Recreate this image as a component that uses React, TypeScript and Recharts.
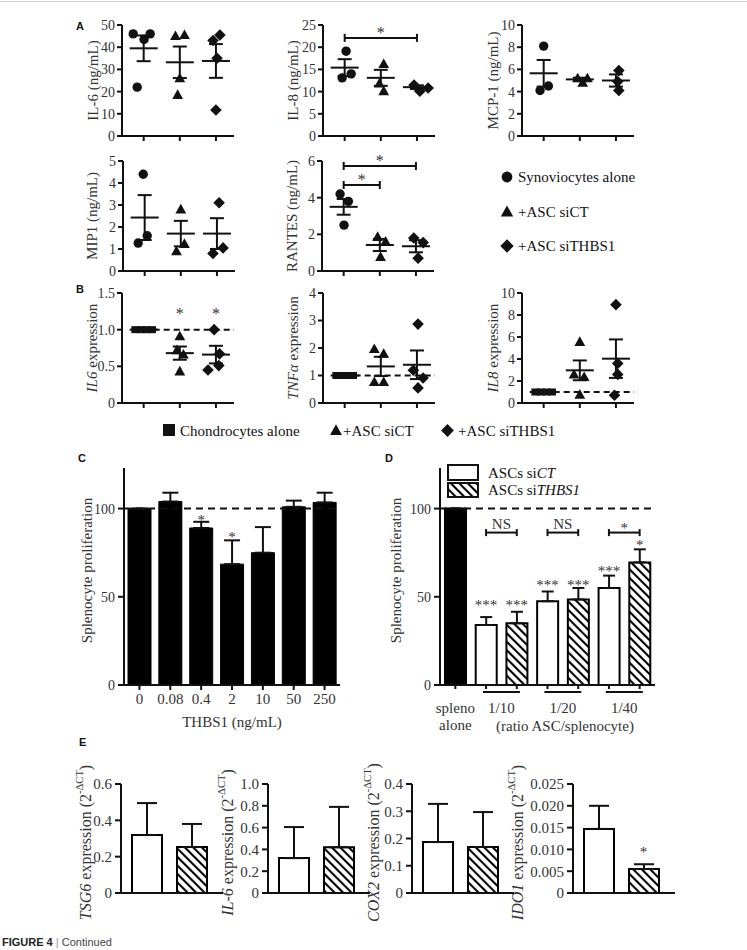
import React from 'react';
import {
  ComposedChart,
  Scatter,
  Bar,
  Cell,
  XAxis,
  YAxis,
  ErrorBar,
  ReferenceLine,
  Legend,
} from 'recharts';

const SERIF = '"Liberation Serif", "Times New Roman", serif';
const SANS = '"Liberation Sans", Arial, sans-serif';
const INK = '#111';
const TXT = '#333';

// ---------- Panel A: cytokines from synoviocytes (ng/mL) ----------
const synGroups = ['Synoviocytes alone', '+ASC siCT', '+ASC siTHBS1'];

const il6Alone = [46, 43.5, 46, 22];
const il6AloneDx = [-0.29, 0.01, 0.18, -0.18];
const il6SiCT = [45, 45.5, 26, 18.5];
const il6SiCTDx = [-0.12, 0.13, 0, -0.06];
const il6SiTHBS1 = [43, 45.5, 35, 11.7];
const il6SiTHBS1Dx = [-0.08, 0.11, 0.03, 0];
const il6Mean = [39.5, 33.2, 33.8];
const il6Sem = [5.8, 7.1, 7.6];

const il8Alone = [19.1, 13.1, 14.0];
const il8AloneDx = [0.04, -0.07, 0.18];
const il8SiCT = [16.2, 11.8, 10.1];
const il8SiCTDx = [0.08, -0.04, 0.08];
const il8SiTHBS1 = [11.5, 10.1, 10.8];
const il8SiTHBS1Dx = [-0.08, 0.08, 0.31];
const il8Mean = [15.4, 13.1, 11.0];
const il8Sem = [1.9, 1.8, 0.4];

const mcp1Alone = [8.1, 4.1, 4.5];
const mcp1AloneDx = [0, -0.1, 0.13];
const mcp1SiCT = [5.2, 5.2, 4.8];
const mcp1SiCTDx = [-0.06, 0.21, 0.08];
const mcp1SiTHBS1 = [5.9, 4.9, 4.1];
const mcp1SiTHBS1Dx = [0.08, 0.05, 0.08];
const mcp1Mean = [5.65, 5.1, 5.0];
const mcp1Sem = [1.2, 0.15, 0.55];

const mip1Alone = [4.4, 1.27, 1.6];
const mip1AloneDx = [-0.04, -0.18, 0.07];
const mip1SiCT = [2.8, 0.9, 1.23];
const mip1SiCTDx = [0, -0.12, 0.1];
const mip1SiTHBS1 = [3.1, 0.8, 1.05];
const mip1SiTHBS1Dx = [0.06, -0.11, 0.17];
const mip1Mean = [2.43, 1.7, 1.7];
const mip1Sem = [1.02, 0.58, 0.7];

const rantesAlone = [4.2, 3.8, 2.5];
const rantesAloneDx = [-0.1, 0.13, 0.01];
const rantesSiCT = [1.86, 1.6, 0.77];
const rantesSiCTDx = [-0.06, 0.16, 0.02];
const rantesSiTHBS1 = [1.8, 1.55, 0.7];
const rantesSiTHBS1Dx = [-0.06, 0.2, 0.06];
const rantesMean = [3.5, 1.42, 1.35];
const rantesSem = [0.43, 0.33, 0.33];

// ---------- Panel B: gene expression in chondrocytes ----------
const chondroGroups = ['Chondrocytes alone', '+ASC siCT', '+ASC siTHBS1'];

const bAlone = [1, 1, 1, 1];
const bAloneDx = [-0.23, -0.08, 0.08, 0.23];

const il6bSiCT = [0.91, 0.72, 0.66, 0.43];
const il6bSiCTDx = [0, -0.08, 0.1, 0];
const il6bSiTHBS1 = [1.0, 0.67, 0.45, 0.51];
const il6bSiTHBS1Dx = [-0.05, 0.1, -0.22, 0.08];
const il6bMean = [1.0, 0.68, 0.66];
const il6bSem = [0, 0.09, 0.12];

const tnfSiCT = [1.96, 1.79, 0.76, 0.76];
const tnfSiCTDx = [-0.18, 0.08, -0.18, 0.08];
const tnfSiTHBS1 = [2.87, 1.19, 0.91, 0.55];
const tnfSiTHBS1Dx = [0.03, -0.1, 0.17, 0.03];
const tnfMean = [1.0, 1.33, 1.39];
const tnfSem = [0, 0.35, 0.52];

const il8bSiCT = [5.55, 2.58, 2.36, 0.76];
const il8bSiCTDx = [0, -0.16, 0.12, 0];
const il8bSiTHBS1 = [8.94, 3.6, 2.6, 0.7];
const il8bSiTHBS1Dx = [0, 0.05, 0.05, -0.04];
const il8bMean = [1.0, 2.97, 4.03];
const il8bSem = [0, 0.9, 1.75];

// ---------- Panel C: splenocyte proliferation vs THBS1 ----------
const thbs1Doses = ['0', '0.08', '0.4', '2', '10', '50', '250'];
const thbs1Prolif = [100, 104, 89, 68.5, 75, 101, 103.5];
const thbs1Err = [0, 5, 3.5, 13.5, 14.5, 3.5, 5.5];
const thbs1Stars = ['', '', '*', '*', '', '', ''];
const thbs1StarY = [null, null, 95, 85.2, null, null, null];

// ---------- Panel D: splenocyte proliferation with ASCs ----------
const dBars = ['spleno alone', 'siCT 1/10', 'siTHBS1 1/10', 'siCT 1/20', 'siTHBS1 1/20', 'siCT 1/40', 'siTHBS1 1/40'];
const dProlif = [100, 34, 35, 47.5, 48.5, 55, 69.5];
const dErr = [0, 4.5, 6.5, 5.5, 6.5, 7, 7.4];
const dStars = ['', '***', '***', '***', '***', '***', '*'];
const dStarY = [null, 46.6, 46.6, 58, 58, 66, 80.7];
const dPairs = ['1/10', '1/20', '1/40'];
const dPairTests = ['NS', 'NS', '*'];

// ---------- Panel E: expression in ASCs ----------
const eGroups = ['ASCs siCT', 'ASCs siTHBS1'];
const tsg6Expr = [0.319, 0.253];
const tsg6Err = [0.176, 0.127];
const il6Expr = [0.32, 0.42];
const il6ExprErr = [0.285, 0.37];
const cox2Expr = [0.187, 0.169];
const cox2Err = [0.14, 0.128];
const ido1Expr = [0.0147, 0.0055];
const ido1Err = [0.0053, 0.0011];
const ido1Stars = ['', '*'];
const ido1StarY = [null, 0.0099];

type Part = { t: string; i?: boolean; sup?: boolean };

function VLabel(props: any) {
  const { px, py, parts, size = 15 } = props;
  const lift = size * 0.38;
  return (
    <text
      x={px}
      y={py}
      transform={`rotate(-90 ${px} ${py})`}
      textAnchor="middle"
      dominantBaseline="central"
      fontFamily={SERIF}
      fontSize={size}
      fill={TXT}
    >
      {parts.map((p: Part, k: number) =>
        p.sup ? (
          <tspan key={k} fontSize={size * 0.66} dy={-lift}>
            {p.t}
          </tspan>
        ) : (
          <tspan key={k} fontStyle={p.i ? 'italic' : 'normal'} dy={k > 0 && parts[k - 1].sup ? lift : 0}>
            {p.t}
          </tspan>
        )
      )}
    </text>
  );
}

function HLabel(props: any) {
  const { px, py, text, size = 15 } = props;
  return (
    <text x={px} y={py} textAnchor="middle" dominantBaseline="central" fontFamily={SERIF} fontSize={size} fill={TXT}>
      {text}
    </text>
  );
}

function Marker({ cx, cy, kind, s = 1 }: { cx: number; cy: number; kind: string; s?: number }) {
  if (cx == null || cy == null || !Number.isFinite(cy)) return <g />;
  if (kind === 'circle') return <circle cx={cx} cy={cy} r={4.7 * s} fill={INK} />;
  if (kind === 'triangle')
    return (
      <polygon
        points={`${cx},${cy - 5.6 * s} ${cx + 5.4 * s},${cy + 4 * s} ${cx - 5.4 * s},${cy + 4 * s}`}
        fill={INK}
      />
    );
  if (kind === 'diamond')
    return (
      <polygon
        points={`${cx},${cy - 5.8 * s} ${cx + 5.8 * s},${cy} ${cx},${cy + 5.8 * s} ${cx - 5.8 * s},${cy}`}
        fill={INK}
      />
    );
  return <rect x={cx - 4 * s} y={cy - 3.5 * s} width={8 * s} height={7 * s} fill={INK} />;
}

const starShape = (size: number) => (p: any) =>
  p && p.payload && p.payload.t && Number.isFinite(p.cy) ? (
    <text x={p.cx} y={p.cy + size * 0.48} textAnchor="middle" fontFamily={SERIF} fontSize={size} fill={TXT}>
      {p.payload.t}
    </text>
  ) : (
    <g />
  );

function bracketLines(items: { a: any; b: any; y: number; t: string }[], cap: number, fs: number) {
  const line = { stroke: INK, strokeWidth: 2, ifOverflow: 'visible' as const };
  return items.flatMap((it, k) => [
    <ReferenceLine
      key={`h${k}`}
      segment={[{ x: it.a, y: it.y }, { x: it.b, y: it.y }]}
      {...line}
      label={{
        value: it.t,
        position: 'top',
        offset: it.t === 'NS' ? 4 : 0,
        fontSize: fs,
        fontFamily: SERIF,
        fill: TXT,
      }}
    />,
    <ReferenceLine key={`l${k}`} segment={[{ x: it.a, y: it.y - cap }, { x: it.a, y: it.y + cap }]} {...line} />,
    <ReferenceLine key={`r${k}`} segment={[{ x: it.b, y: it.y - cap }, { x: it.b, y: it.y + cap }]} {...line} />,
  ]);
}

const axisStyle = { stroke: INK, strokeWidth: 2 };
const tickText = { fontSize: 14, fontFamily: SERIF, fill: TXT };

// dot plot layout
const DML = 30;
const DYW = 40;
const DMT = 12;
const DPW = 112;

interface Group {
  kind: string;
  vals: number[];
  dx: number[];
}

function DotPlot(props: {
  axisX: number;
  yTop: number;
  y0: number;
  max: number;
  ticks: number[];
  fmt?: (v: number) => string;
  label: Part[];
  labelDx?: number;
  groups: Group[];
  means: number[];
  sems: number[];
  dashed?: boolean;
  brackets?: { a: number; b: number; y: number; t: string }[];
  stars?: { x: number; y: number; t: string }[];
  children?: React.ReactNode;
}) {
  const { axisX, yTop, y0, max, ticks, fmt, label, labelDx = 29, groups, means, sems, dashed, brackets = [], stars = [] } =
    props;
  const plotH = y0 - yTop;
  const cap = (4 * max) / plotH;
  const meanData = means.map((m, i) => ({ x: i + 1, y: m, sem: sems[i] }));
  return (
    <div style={{ position: 'absolute', left: axisX - DML - DYW, top: yTop - DMT }}>
      <ComposedChart
        width={DML + DYW + DPW + 20}
        height={DMT + plotH + 14}
        margin={{ top: DMT, right: 20, bottom: 2, left: DML }}
      >
        <XAxis
          type="number"
          dataKey="x"
          domain={[0.4, 3.5]}
          ticks={[1, 2, 3]}
          tickFormatter={() => ''}
          height={12}
          tickSize={5}
          axisLine={axisStyle}
          tickLine={axisStyle}
          allowDataOverflow
        />
        <YAxis
          type="number"
          dataKey="y"
          domain={[0, max]}
          ticks={ticks}
          interval={0}
          width={DYW}
          tickSize={5}
          tickMargin={2}
          tickFormatter={fmt}
          axisLine={axisStyle}
          tickLine={axisStyle}
          tick={tickText}
          allowDataOverflow
          label={<VLabel px={DML + DYW - labelDx} py={DMT + plotH / 2} parts={label} />}
        />
        {dashed && (
          <ReferenceLine
            segment={[{ x: 1, y: 1 }, { x: 3.5, y: 1 }]}
            stroke={INK}
            strokeWidth={2}
            strokeDasharray="6 4"
          />
        )}
        {groups.map((g, gi) => (
          <Scatter
            key={gi}
            data={g.vals.map((v, i) => ({ x: gi + 1 + g.dx[i], y: v }))}
            isAnimationActive={false}
            shape={(p: any) => <Marker cx={p.cx} cy={p.cy} kind={g.kind} />}
          />
        ))}
        <Scatter
          data={meanData}
          isAnimationActive={false}
          shape={(p: any) => (
            <line x1={p.cx - 14} x2={p.cx + 14} y1={p.cy} y2={p.cy} stroke={INK} strokeWidth={2} />
          )}
        >
          <ErrorBar dataKey="sem" direction="y" width={7} strokeWidth={2} stroke={INK} isAnimationActive={false} />
        </Scatter>
        {stars.length > 0 && <Scatter data={stars} isAnimationActive={false} shape={starShape(16)} />}
        {bracketLines(brackets, cap, 16)}
        {props.children}
      </ComposedChart>
    </div>
  );
}

function SynLegend() {
  const tx = { fontFamily: SERIF, fontSize: 15, fill: INK };
  const kinds = ['circle', 'triangle', 'diamond'];
  const rows = [12, 47, 81];
  return (
    <svg width={170} height={95} style={{ display: 'block', overflow: 'visible' }}>
      {synGroups.map((g, i) => (
        <g key={g}>
          <Marker cx={7} cy={rows[i]} kind={kinds[i]} s={1.15} />
          <text x={18} y={rows[i] + 5} {...tx}>
            {g}
          </text>
        </g>
      ))}
    </svg>
  );
}

function ChondroLegend() {
  const tx = { fontFamily: SERIF, fontSize: 15, fill: INK };
  const kinds = ['square', 'triangle', 'diamond'];
  const mx = [11, 178, 289.5];
  const tx0 = [22, 185, 300];
  return (
    <svg width={430} height={20} style={{ display: 'block', overflow: 'visible' }}>
      {chondroGroups.map((g, i) => (
        <g key={g}>
          {kinds[i] === 'square' ? (
            <rect x={mx[i] - 6} y={3} width={12} height={12} fill={INK} />
          ) : (
            <Marker cx={mx[i]} cy={9.5} kind={kinds[i]} s={1.1} />
          )}
          <text x={tx0[i]} y={15} {...tx}>
            {g}
          </text>
        </g>
      ))}
    </svg>
  );
}

const hatchDefs = (
  <defs>
    <pattern id="hatch" width="6" height="6" patternUnits="userSpaceOnUse" patternTransform="rotate(-45)">
      <rect width="6" height="6" fill="#fff" />
      <line x1="1" y1="0" x2="1" y2="6" stroke="#000" strokeWidth="2.2" />
    </pattern>
  </defs>
);

function AscLegend() {
  const tx = { fontFamily: SERIF, fontSize: 15, fill: INK };
  return (
    <svg width={170} height={40} style={{ display: 'block', overflow: 'visible' }}>
      <rect x={3} y={3} width={30} height={15} fill="#fff" stroke={INK} strokeWidth={2} />
      <rect x={3} y={21} width={30} height={14} fill="url(#hatch)" stroke={INK} strokeWidth={2} />
      <text x={43} y={16} {...tx}>
        ASCs si<tspan fontStyle="italic">CT</tspan>
      </text>
      <text x={43} y={33} {...tx}>
        ASCs si<tspan fontStyle="italic">THBS1</tspan>
      </text>
    </svg>
  );
}

// bar charts share the proliferation scale
const BML = 30;
const BYW = 46;
const BMT = 10;
const B_TOP = 468;
const B_Y0 = 685;
const B_MAX = 123;

function PanelC() {
  const plotW = 216;
  const plotH = B_Y0 - B_TOP;
  const data = thbs1Doses.map((d, i) => ({
    dose: d,
    v: thbs1Prolif[i],
    err: [0, thbs1Err[i]],
    sy: thbs1StarY[i],
    t: thbs1Stars[i],
  }));
  const left = 124 - BML - BYW;
  return (
    <div style={{ position: 'absolute', left, top: B_TOP - BMT }}>
      <ComposedChart
        width={BML + BYW + plotW + 20}
        height={BMT + plotH + 52}
        data={data}
        margin={{ top: BMT, right: 20, bottom: 2, left: BML }}
      >
        <XAxis
          dataKey="dose"
          interval={0}
          height={50}
          tickSize={5}
          tickMargin={3}
          axisLine={axisStyle}
          tickLine={axisStyle}
          tick={{ ...tickText, fontSize: 15 }}
          label={<HLabel px={BML + BYW + plotW / 2} py={BMT + plotH + 37} text="THBS1  (ng/mL)" />}
        />
        <YAxis
          type="number"
          domain={[0, B_MAX]}
          ticks={[0, 50, 100]}
          interval={0}
          width={BYW}
          tickSize={6}
          tickMargin={3}
          axisLine={axisStyle}
          tickLine={axisStyle}
          tick={tickText}
          allowDataOverflow
          label={<VLabel px={BML + BYW - 37} py={BMT + plotH / 2 - 6} parts={[{ t: 'Splenocyte proliferation' }]} />}
        />
        <Bar dataKey="v" barSize={23} fill="#000" stroke="#000" strokeWidth={1} isAnimationActive={false}>
          <ErrorBar dataKey="err" direction="y" width={8} strokeWidth={2} stroke={INK} isAnimationActive={false} />
        </Bar>
        <ReferenceLine y={100} stroke={INK} strokeWidth={2} strokeDasharray="7 5" />
        <Scatter dataKey="sy" isAnimationActive={false} shape={starShape(15)} />
      </ComposedChart>
    </div>
  );
}

const D_PLOTW = 215;
const D_BAND = D_PLOTW / dBars.length;

function DTick(p: any) {
  const name: string = p.payload ? p.payload.value : '';
  const x = p.x;
  const y = p.y;
  const tx = { fontFamily: SERIF, fontSize: 15, fill: TXT, textAnchor: 'middle' as const };
  if (name === 'spleno alone')
    return (
      <g>
        <text x={x} y={y + 21} {...tx}>
          spleno
        </text>
        <text x={x} y={y + 38} {...tx}>
          alone
        </text>
      </g>
    );
  if (name.startsWith('siCT')) {
    const cx = x + D_BAND / 2;
    return (
      <g>
        <line x1={cx - 18.5} x2={cx + 18.5} y1={y} y2={y} stroke={INK} strokeWidth={2} />
        <text x={cx} y={y + 21} {...tx}>
          {name.split(' ')[1]}
        </text>
      </g>
    );
  }
  return <g />;
}

function PanelD() {
  const plotH = B_Y0 - B_TOP;
  const data = dBars.map((d, i) => ({
    grp: d,
    v: dProlif[i],
    err: [0, dErr[i]],
    sy: dStarY[i],
    t: dStars[i],
  }));
  const left = 440 - BML - BYW;
  const pairs = dPairs.map((r, i) => ({ a: `siCT ${r}`, b: `siTHBS1 ${r}`, y: 86.4, t: dPairTests[i] }));
  const fillOf = (d: string) => (d.startsWith('siTHBS1') ? 'url(#hatch)' : d.startsWith('siCT') ? '#fff' : '#000');
  return (
    <div style={{ position: 'absolute', left, top: B_TOP - BMT }}>
      <ComposedChart
        width={BML + BYW + D_PLOTW + 20}
        height={BMT + plotH + 52}
        data={data}
        margin={{ top: BMT, right: 20, bottom: 2, left: BML }}
      >
        {hatchDefs}
        <XAxis
          dataKey="grp"
          interval={0}
          height={50}
          tickSize={4}
          tickMargin={3}
          axisLine={axisStyle}
          tickLine={axisStyle}
          tick={DTick}
          label={<HLabel px={565 - left} py={726 - (B_TOP - BMT)} text="(ratio ASC/splenocyte)" />}
        />
        <YAxis
          type="number"
          domain={[0, B_MAX]}
          ticks={[0, 50, 100]}
          interval={0}
          width={BYW}
          tickSize={6}
          tickMargin={3}
          axisLine={axisStyle}
          tickLine={axisStyle}
          tick={tickText}
          allowDataOverflow
          label={<VLabel px={BML + BYW - 44} py={BMT + plotH / 2 - 6} parts={[{ t: 'Splenocyte proliferation' }]} />}
        />
        <ReferenceLine y={100} stroke={INK} strokeWidth={2} strokeDasharray="7 5" />
        <Bar dataKey="v" barSize={21} stroke="#000" strokeWidth={2} isAnimationActive={false}>
          {dBars.map((d) => (
            <Cell key={d} fill={fillOf(d)} />
          ))}
          <ErrorBar dataKey="err" direction="y" width={6} strokeWidth={2} stroke={INK} isAnimationActive={false} />
        </Bar>
        <Scatter dataKey="sy" isAnimationActive={false} shape={starShape(15)} />
        {bracketLines(pairs, 2, 15)}
        <Legend
          layout="horizontal"
          verticalAlign="middle"
          align="center"
          content={() => <AscLegend />}
          wrapperStyle={{ left: 445 - left, top: 462 - (B_TOP - BMT), width: 170, height: 40 }}
        />
      </ComposedChart>
    </div>
  );
}

// E panel layout: tall margins so the rotated titles are not clipped
const EML = 30;
const EYW = 45;
const EMT = 40;
const EMB = 40;
const E_TOP = 784;
const E_Y0 = 893;
const E_PW = 102;

function EPanel(props: {
  axisX: number;
  max: number;
  ticks: number[];
  dec: number;
  label: Part[];
  labelDx: number;
  vals: number[];
  errs: number[];
  stars?: string[];
  starY?: (number | null)[];
}) {
  const { axisX, max, ticks, dec, label, labelDx, vals, errs, stars = ['', ''], starY = [null, null] } = props;
  const plotH = E_Y0 - E_TOP;
  const data = eGroups.map((g, i) => ({ g, v: vals[i], err: [0, errs[i]], sy: starY[i], t: stars[i] }));
  return (
    <div style={{ position: 'absolute', left: axisX - EML - EYW, top: E_TOP - EMT }}>
      <ComposedChart
        width={EML + EYW + E_PW + 10}
        height={EMT + plotH + 4 + EMB}
        data={data}
        margin={{ top: EMT, right: 10, bottom: EMB, left: EML }}
      >
        {hatchDefs}
        <XAxis
          dataKey="g"
          height={4}
          tick={false}
          tickLine={false}
          axisLine={axisStyle}
          padding={{ left: 3, right: 9 }}
        />
        <YAxis
          type="number"
          domain={[0, max]}
          ticks={ticks}
          interval={0}
          width={EYW}
          tickSize={6}
          tickMargin={3}
          tickFormatter={(v: number) => (v === 0 ? '0' : v.toFixed(dec))}
          axisLine={axisStyle}
          tickLine={axisStyle}
          tick={{ ...tickText, fontSize: 15 }}
          allowDataOverflow
          label={<VLabel px={EML + EYW - labelDx} py={EMT + plotH / 2 + 4} parts={label} size={16} />}
        />
        <Bar dataKey="v" barSize={30} stroke="#000" strokeWidth={2} isAnimationActive={false}>
          {eGroups.map((g) => (
            <Cell key={g} fill={g.endsWith('THBS1') ? 'url(#hatch)' : '#fff'} />
          ))}
          <ErrorBar dataKey="err" direction="y" width={10} strokeWidth={2} stroke={INK} isAnimationActive={false} />
        </Bar>
        <Scatter dataKey="sy" isAnimationActive={false} shape={starShape(15)} />
      </ComposedChart>
    </div>
  );
}

function PanelLetter({ x, y, t }: { x: number; y: number; t: string }) {
  return (
    <div
      style={{
        position: 'absolute',
        left: x,
        top: y,
        fontFamily: SANS,
        fontWeight: 700,
        fontSize: 11,
        lineHeight: '12px',
        color: '#111',
      }}
    >
      {t}
    </div>
  );
}

const expr = (gene: string): Part[] => [{ t: gene, i: true }, { t: ' expression' }];
const dct = (gene: string): Part[] => [{ t: gene, i: true }, { t: ' expression (2' }, { t: '-ΔCT', sup: true }, { t: ')' }];

export default function App() {
  const g3 = (a: number[], ad: number[], b: number[], bd: number[], c: number[], cd: number[], first = 'circle') => [
    { kind: first, vals: a, dx: ad },
    { kind: 'triangle', vals: b, dx: bd },
    { kind: 'diamond', vals: c, dx: cd },
  ];
  const fmt1 = (v: number) => (v === 0 ? '0' : v.toFixed(1));
  return (
    <div
      style={{
        position: 'absolute',
        left: 0,
        top: 0,
        width: 747,
        height: 950,
        background: '#fff',
        overflow: 'hidden',
        fontFamily: SERIF,
      }}
    >
      <div style={{ position: 'absolute', left: 0, top: 1, width: 747, height: 1, background: '#cfcfcf' }} />

      <PanelLetter x={76} y={20} t="A" />
      <DotPlot
        axisX={122}
        yTop={25}
        y0={136}
        max={50}
        ticks={[0, 10, 20, 30, 40, 50]}
        label={[{ t: 'IL-6 (ng/mL)' }]}
        groups={g3(il6Alone, il6AloneDx, il6SiCT, il6SiCTDx, il6SiTHBS1, il6SiTHBS1Dx)}
        means={il6Mean}
        sems={il6Sem}
      />
      <DotPlot
        axisX={323}
        yTop={25}
        y0={136}
        max={25}
        ticks={[0, 5, 10, 15, 20, 25]}
        label={[{ t: 'IL-8 (ng/mL)' }]}
        labelDx={30}
        groups={g3(il8Alone, il8AloneDx, il8SiCT, il8SiCTDx, il8SiTHBS1, il8SiTHBS1Dx)}
        means={il8Mean}
        sems={il8Sem}
        brackets={[{ a: 1, b: 3, y: 22.1, t: '*' }]}
      />
      <DotPlot
        axisX={522}
        yTop={25}
        y0={136}
        max={10}
        ticks={[0, 2, 4, 6, 8, 10]}
        label={[{ t: 'MCP-1  (ng/mL)' }]}
        groups={g3(mcp1Alone, mcp1AloneDx, mcp1SiCT, mcp1SiCTDx, mcp1SiTHBS1, mcp1SiTHBS1Dx)}
        means={mcp1Mean}
        sems={mcp1Sem}
      />
      <DotPlot
        axisX={123}
        yTop={161}
        y0={271}
        max={5}
        ticks={[0, 1, 2, 3, 4, 5]}
        label={[{ t: 'MIP1  (ng/mL)' }]}
        labelDx={31}
        groups={g3(mip1Alone, mip1AloneDx, mip1SiCT, mip1SiCTDx, mip1SiTHBS1, mip1SiTHBS1Dx)}
        means={mip1Mean}
        sems={mip1Sem}
      />
      <DotPlot
        axisX={322}
        yTop={161}
        y0={271}
        max={6}
        ticks={[0, 2, 4, 6]}
        label={[{ t: 'RANTES  (ng/mL)' }]}
        labelDx={30}
        groups={g3(rantesAlone, rantesAloneDx, rantesSiCT, rantesSiCTDx, rantesSiTHBS1, rantesSiTHBS1Dx)}
        means={rantesMean}
        sems={rantesSem}
        brackets={[
          { a: 1, b: 3, y: 5.73, t: '*' },
          { a: 1, b: 2, y: 4.69, t: '*' },
        ]}
      >
        <Legend
          layout="horizontal"
          verticalAlign="middle"
          align="center"
          content={() => <SynLegend />}
          wrapperStyle={{ left: 500 - 252, top: 165 - 149, width: 170, height: 95 }}
        />
      </DotPlot>

      <PanelLetter x={76} y={283} t="B" />
      <DotPlot
        axisX={122}
        yTop={293}
        y0={403}
        max={1.5}
        ticks={[0, 0.5, 1, 1.5]}
        fmt={fmt1}
        label={expr('IL6')}
        labelDx={30}
        groups={g3(bAlone, bAloneDx, il6bSiCT, il6bSiCTDx, il6bSiTHBS1, il6bSiTHBS1Dx, 'square')}
        means={il6bMean}
        sems={il6bSem}
        dashed
        stars={[
          { x: 2, y: 1.245, t: '*' },
          { x: 3, y: 1.245, t: '*' },
        ]}
      />
      <DotPlot
        axisX={323}
        yTop={293}
        y0={403}
        max={4}
        ticks={[0, 1, 2, 3, 4]}
        label={expr('TNFα')}
        labelDx={30}
        groups={g3(bAlone, bAloneDx, tnfSiCT, tnfSiCTDx, tnfSiTHBS1, tnfSiTHBS1Dx, 'square')}
        means={tnfMean}
        sems={tnfSem}
        dashed
      >
        <Legend
          layout="horizontal"
          verticalAlign="middle"
          align="center"
          content={() => <ChondroLegend />}
          wrapperStyle={{ left: 158 - 253, top: 421 - 281, width: 430, height: 20 }}
        />
      </DotPlot>
      <DotPlot
        axisX={522}
        yTop={293}
        y0={403}
        max={10}
        ticks={[0, 2, 4, 6, 8, 10]}
        label={expr('IL8')}
        labelDx={29}
        groups={g3(bAlone, bAloneDx, il8bSiCT, il8bSiCTDx, il8bSiTHBS1, il8bSiTHBS1Dx, 'square')}
        means={il8bMean}
        sems={il8bSem}
        dashed
      />

      <PanelLetter x={78} y={452} t="C" />
      <PanelC />
      <PanelLetter x={385} y={452} t="D" />
      <PanelD />

      <PanelLetter x={79} y={736} t="E" />
      <EPanel
        axisX={121}
        max={0.6}
        ticks={[0, 0.2, 0.4, 0.6]}
        dec={1}
        label={dct('TSG6')}
        labelDx={36}
        vals={tsg6Expr}
        errs={tsg6Err}
      />
      <EPanel
        axisX={268}
        max={1.0}
        ticks={[0, 0.2, 0.4, 0.6, 0.8, 1.0]}
        dec={1}
        label={dct('IL-6')}
        labelDx={41}
        vals={il6Expr}
        errs={il6ExprErr}
      />
      <EPanel
        axisX={412}
        max={0.4}
        ticks={[0, 0.1, 0.2, 0.3, 0.4]}
        dec={1}
        label={dct('COX2')}
        labelDx={39}
        vals={cox2Expr}
        errs={cox2Err}
      />
      <EPanel
        axisX={573}
        max={0.025}
        ticks={[0, 0.005, 0.01, 0.015, 0.02, 0.025]}
        dec={3}
        label={dct('IDO1')}
        labelDx={56}
        vals={ido1Expr}
        errs={ido1Err}
        stars={ido1Stars}
        starY={ido1StarY}
      />

      <div
        style={{
          position: 'absolute',
          left: 2,
          top: 936,
          fontFamily: SANS,
          fontSize: 11,
          lineHeight: '13px',
          color: '#444',
          whiteSpace: 'nowrap',
        }}
      >
        <span style={{ fontWeight: 700, color: '#222' }}>FIGURE 4</span>
        <span style={{ color: '#999' }}> | </span>
        <span>Continued</span>
      </div>
    </div>
  );
}
